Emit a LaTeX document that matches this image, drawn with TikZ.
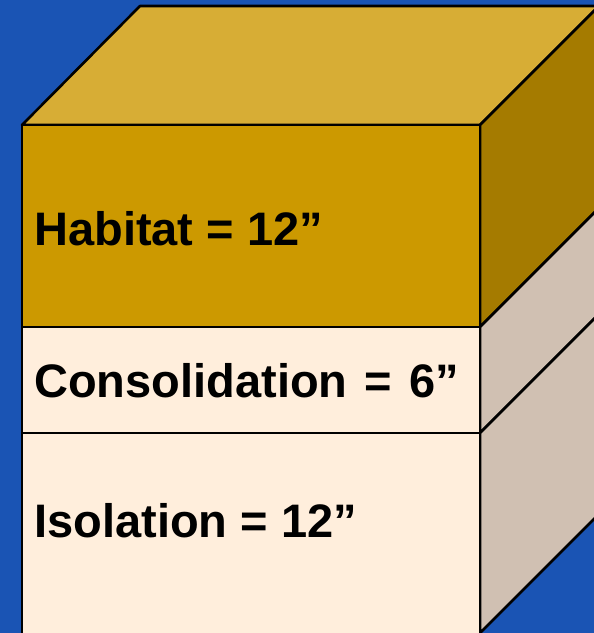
\documentclass[tikz,border=0pt]{standalone}
\usepackage{fontspec}
\setmainfont{Liberation Sans}
\usepackage{tikz}
\usetikzlibrary{positioning}
\definecolor{bgblue}{RGB}{26,84,180}
\definecolor{topgold}{RGB}{215,173,53}
\definecolor{habfront}{RGB}{204,153,0}
\definecolor{habside}{RGB}{165,123,0}
\definecolor{cream}{RGB}{255,238,220}
\definecolor{tan}{RGB}{208,192,178}

\begin{document}
\begin{tikzpicture}[x=1pt, y=-1pt, line width=2.6pt, line join=round,
    face/.style={draw=black},
    lbl/.style={anchor=base west, inner sep=0pt, font=\fontsize{47}{56}\selectfont\bfseries}]
    \useasboundingbox[fill=bgblue] (0,0) rectangle (594,633);
    \clip (0,0) rectangle (594,633);
    % corners of the block
    \coordinate (ftl) at (22,125);
    \coordinate (ftr) at (480,125);
    \coordinate (btl) at (140,6);
    \coordinate (btr) at (599,6);
    % top and right side
    \filldraw[face, fill=topgold] (ftl) -- (btl) -- (btr) -- (ftr) -- cycle;
    \filldraw[face, fill=habside] (ftr) -- (btr) -- (599,208) -- (480,327) -- cycle;
    \filldraw[face, fill=tan] (480,327) -- (599,208) -- (599,314) -- (480,433) -- cycle;
    \filldraw[face, fill=tan] (480,433) -- (599,314) -- (599,514) -- (480,633) -- cycle;
    % front layers
    \filldraw[face, fill=habfront] (ftl) rectangle (480,327);
    \filldraw[face, fill=cream] (22,327) rectangle (480,433);
    \filldraw[face, fill=cream] (22,433) rectangle (480,645);
    \node[lbl] (hab) at (33,245) {Habitat = 12”};
    \node[lbl] (cons) at (33,397) {Consolidation\hspace{4pt} =\hspace{4pt} 6”};
    \node[lbl] (iso) at (33,537) {Isolation = 12”};
\end{tikzpicture}
\end{document}
